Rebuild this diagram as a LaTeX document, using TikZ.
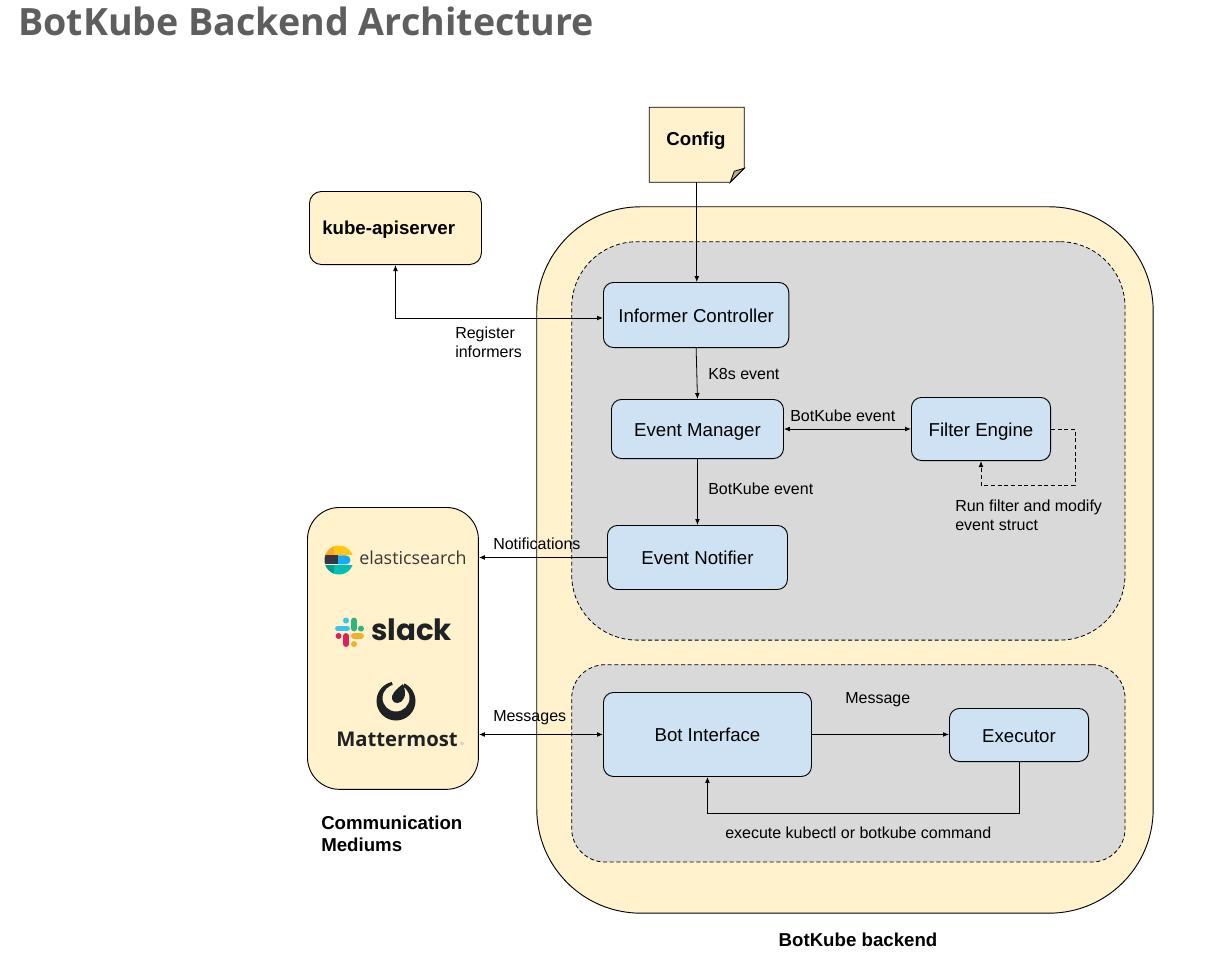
\documentclass[tikz,border=0pt]{standalone}
\usepackage{fontspec}
\setmainfont{Liberation Sans}
\newfontfamily\titlefont{Open Sans}
\newfontfamily\logofont{Open Sans}
\newfontfamily\slackfont{Poppins}
\usetikzlibrary{arrows.meta,calc}
\definecolor{cream}{HTML}{FFF2CC}
\definecolor{panel}{HTML}{D9D9D9}
\definecolor{bluebox}{HTML}{CFE2F3}
\definecolor{ink}{HTML}{1F2225}
\definecolor{esyellow}{HTML}{FEC514}
\definecolor{esorange}{HTML}{F9A825}
\definecolor{esdark}{HTML}{343741}
\definecolor{esblue}{HTML}{1BA9F5}
\definecolor{esteal}{HTML}{00BFB3}
\definecolor{esdteal}{HTML}{019B8F}
\definecolor{slblue}{HTML}{36C5F0}
\definecolor{slgreen}{HTML}{2EB67D}
\definecolor{slyellow}{HTML}{ECB22E}
\definecolor{slred}{HTML}{E01E5A}
\tikzset{
  x=0.75pt,y=-0.75pt,
  box/.style={draw=black,line width=0.7pt,rounded corners=7.5pt,fill=bluebox,font=\fontsize{14}{17}\selectfont,inner sep=0pt,anchor=north west,text height=13pt,text depth=2.5pt},
  crm/.style={box,fill=cream},
  pan/.style={draw=black,line width=0.6pt,densely dashed,fill=panel,inner sep=0pt,anchor=north west},
  conn/.style={draw=black,line width=0.6pt,-{Latex[length=4.5pt,width=3.6pt]}},
  both/.style={conn,{Latex[length=4.5pt,width=3.6pt]}-{Latex[length=4.5pt,width=3.6pt]}},
  lab/.style={font=\fontsize{12}{14.4}\selectfont,anchor=west,inner sep=0pt,align=left},
  bold/.style={font=\fontsize{14}{16.5}\selectfont\bfseries,anchor=west,inner sep=0pt,align=left},
}
\begin{document}
\begin{tikzpicture}
\useasboundingbox (0,0) rectangle (1232,960);
\fill[white] (0,0) rectangle (1232,960);
\node[anchor=base west,inner sep=0pt,text=black!63,font=\fontsize{28.2}{34}\titlefont\bfseries] (title) at (18,36) {BotKube Backend Architecture};

% containers
\node[crm,minimum width=462.3pt,minimum height=529.8pt,rounded corners=78pt] (backend) at (536.3,206.3) {};
\node[pan,minimum width=415pt,minimum height=298.8pt,rounded corners=49pt] (upper) at (571.3,241.3) {};
\node[pan,minimum width=415pt,minimum height=148pt,rounded corners=25pt] (lower) at (571.3,664.3) {};
\node[crm,minimum width=128.2pt,minimum height=211.4pt,rounded corners=24pt] (comm) at (307,507) {};
\node[crm,minimum width=129pt,minimum height=54.8pt,rounded corners=9pt] (kube) at (309,191) {};
\node[bold] (kubelab) at (322,230) {kube-apiserver};

% config note
\node[inner sep=0pt,minimum width=70.8pt,minimum height=55.8pt,anchor=north west] (cfg) at (649.3,107.3) {};
\draw[line width=0.6pt,fill=cream] (cfg.north west) -- (cfg.north east) -- ($(cfg.south east)+(0,-14)$) -- ($(cfg.south east)+(-14,0)$) -- (cfg.south west) -- cycle;
\draw[line width=0.6pt,fill=black!28!cream] ($(cfg.south east)+(0,-14)$) -- ($(cfg.south east)+(-14,0)$) -- ($(cfg.south east)+(-10,-11)$) -- cycle;
\node[bold,anchor=center] (cfglab) at (696,141) {Config};

% process boxes
\node[box,minimum width=139pt,minimum height=48.8pt] (inf) at (603,282) {Informer Controller};
\node[box,minimum width=129pt,minimum height=44.3pt] (em) at (611,399) {Event Manager};
\node[box,minimum width=104.3pt,minimum height=47.3pt] (fe) at (911,397) {Filter Engine};
\node[box,minimum width=135pt,minimum height=48pt] (en) at (607,525) {Event Notifier};
\node[box,minimum width=156pt,minimum height=63pt] (bot) at (603,692) {Bot Interface};
\node[box,minimum width=104.3pt,minimum height=39.8pt] (ex) at (949,708) {Executor};

% connectors
\draw[conn] (cfg.south) -- (cfg.south |- inf.north);
\draw[both] (kube.south) |- ([yshift=-2.25pt]inf.west);
\draw[conn] (inf.south) -- (em.north);
\draw[both] (em.east) -- (fe.west);
\draw[conn,densely dashed] (fe.east) -- ++(24,0) |- ($(fe.south)+(0,24)$) -- (fe.south);
\draw[conn] (em.south) -- (en.north);
\draw[conn] (en.west) -- (en.west -| comm.east);
\draw[both] (bot.west) -- (bot.west -| comm.east);
\draw[conn] (bot.east) -- (bot.east -| ex.west);
\draw[conn] (ex.south) |- ($(bot.south)+(0,36)$) -- (bot.south);

% labels
\node[lab] (l1) at (455,342) {Register\\informers};
\node[lab] (l2) at (708,374) {K8s event};
\node[lab] (l3) at (790,416) {BotKube event};
\node[lab] (l4) at (708,489) {BotKube event};
\node[lab] (l5) at (955,515) {Run filter and modify\\event struct};
\node[lab] (l6) at (493,544) {Notifications};
\node[lab] (l7) at (493,718) {Messages};
\node[lab] (l8) at (845,700) {Message};
\node[lab] (l9) at (725,832.5) {execute kubectl or botkube command};
\node[bold] (l10) at (321,833.5) {Communication\\Mediums};
\node[bold,anchor=center] (l11) at (858,939.5) {BotKube backend};

% elasticsearch logo
\begin{scope}
\clip (339,560) circle[radius=14.5];
\fill[esyellow] (320,540) rectangle (360,554.6);
\fill[esorange] (320,540) rectangle (334,554.6);
\fill[esdark] (320,555.4) rectangle (338,564.4);
\fill[esblue] (338,555.4) -- (346,555.4) arc[start angle=-90,end angle=90,radius=4.5] -- (338,564.4) -- cycle;
\fill[esteal] (320,565.2) rectangle (360,580);
\fill[esdteal] (320,565.2) rectangle (334,580);
\end{scope}
\node[inner sep=0pt,anchor=west,text=black!78,font=\fontsize{13.4}{16}\logofont\selectfont] (es) at (359,558) {elasticsearch};

% slack logo
\begin{scope}[line cap=round,line width=4.4pt]
\draw[slblue] (338,628.5) -- (347,628.5);
\draw[slblue] (346,620.5) -- (346,620.6);
\draw[slgreen] (354,620.5) -- (354,628.5);
\draw[slgreen] (361,628.5) -- (361,628.6);
\draw[slyellow] (354,636) -- (361,636);
\draw[slyellow] (354,644) -- (354,644.1);
\draw[slred] (346,636) -- (346,644);
\draw[slred] (338.5,636) -- (338.6,636);
\end{scope}
\node[inner sep=0pt,anchor=west,text=ink,font=\fontsize{22}{26}\slackfont\bfseries] (sl) at (371,630) {slack};

% mattermost logo
\fill[ink,even odd rule] (396,701) circle[radius=19.5] (396,698) circle[radius=13.5];
\fill[cream] (391,678) -- (406,678) -- (402,690) -- (394,690) -- cycle;
\fill[ink] (403,684) .. controls (405,690) and (406,694) .. (404,698) .. controls (402,704) and (393,705) .. (392,699) .. controls (391,695) and (395,690) .. (403,684) -- cycle;
\node[inner sep=0pt,anchor=west,text=ink,font=\fontsize{15.2}{18}\logofont\bfseries] (mm) at (336,739) {Mattermost};
\node[inner sep=0pt,anchor=west,text=black!40,font=\fontsize{3.5}{4}\selectfont] (reg) at (460,744) {®};
\end{tikzpicture}
\end{document}
